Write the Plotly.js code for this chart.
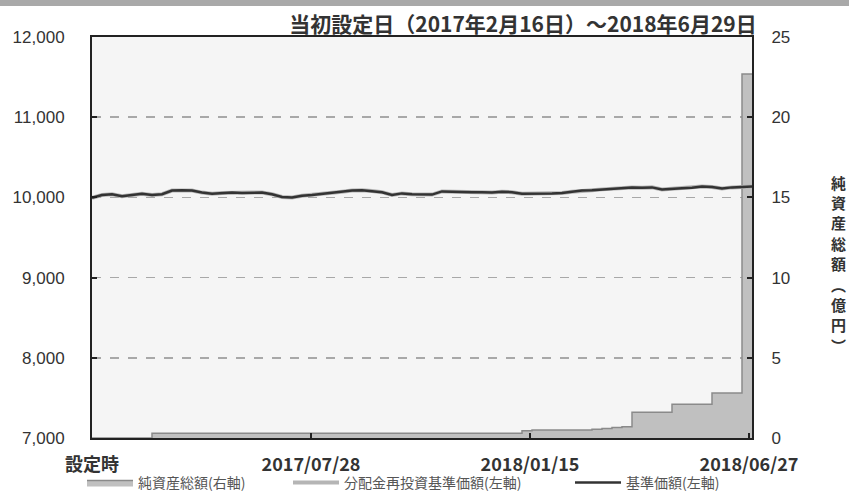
<!DOCTYPE html>
<html>
<head>
<meta charset="utf-8">
<script src="https://cdn.plot.ly/plotly-3.0.1.min.js"></script>
<style>
html,body{margin:0;padding:0;background:#fff;}
#chart{width:849px;height:492px;}
</style>
</head>
<body>
<div id="chart"></div>
<script>
// x tick labels
const tickLabels = ["設定時", "2017/07/28", "2018/01/15", "2018/06/27"];
const tickIdx = [0, 21.9, 43.8, 65.7];
// right axis title, written vertically one character at a time
const rightTitleChars = ["純", "資", "産", "総", "額", "︵", "億", "円", "︶"];

// 基準価額 (円), weekly readings
const nav = [
  9995, 10030, 10040, 10015, 10030, 10045, 10030, 10040, 10085, 10090,
  10085, 10060, 10045, 10055, 10060, 10055, 10060, 10060, 10040, 10005,
  10000, 10020, 10030, 10045, 10060, 10070, 10085, 10090, 10080, 10065,
  10030, 10050, 10040, 10035, 10035, 10075, 10070, 10065, 10065, 10065,
  10060, 10070, 10065, 10045, 10045, 10050, 10050, 10055, 10070, 10085,
  10090, 10100, 10110, 10120, 10125, 10120, 10125, 10100, 10110, 10115,
  10120, 10135, 10130, 10110, 10125, 10130, 10135
];
// 分配金再投資基準価額 (円) - no distributions, same as NAV
const navReinvested = [
  9995, 10030, 10040, 10015, 10030, 10045, 10030, 10040, 10085, 10090,
  10085, 10060, 10045, 10055, 10060, 10055, 10060, 10060, 10040, 10005,
  10000, 10020, 10030, 10045, 10060, 10070, 10085, 10090, 10080, 10065,
  10030, 10050, 10040, 10035, 10035, 10075, 10070, 10065, 10065, 10065,
  10060, 10070, 10065, 10045, 10045, 10050, 10050, 10055, 10070, 10085,
  10090, 10100, 10110, 10120, 10125, 10120, 10125, 10100, 10110, 10115,
  10120, 10135, 10130, 10110, 10125, 10130, 10135
];
// 純資産総額 (億円)
const netAssets = [
  0, 0, 0, 0, 0, 0, 0.3, 0.3, 0.3, 0.3,
  0.3, 0.3, 0.3, 0.3, 0.3, 0.3, 0.3, 0.3, 0.3, 0.3,
  0.3, 0.3, 0.3, 0.3, 0.3, 0.3, 0.3, 0.3, 0.3, 0.3,
  0.3, 0.3, 0.3, 0.3, 0.3, 0.3, 0.3, 0.3, 0.3, 0.3,
  0.3, 0.3, 0.3, 0.45, 0.5, 0.5, 0.5, 0.5, 0.5, 0.5,
  0.55, 0.6, 0.65, 0.7, 1.6, 1.6, 1.6, 1.6, 2.1, 2.1,
  2.1, 2.1, 2.8, 2.8, 2.8, 22.7, 22.7
];
const xIdx = nav.map((_, i) => i);

const FONT = "'Noto Sans CJK JP', 'Liberation Sans', sans-serif";
const NUMFONT = "'Liberation Sans', Arial, sans-serif";

const traces = [
  {
    x: xIdx, y: netAssets, type: 'scatter', mode: 'lines',
    name: '純資産総額(右軸)', yaxis: 'y', fill: 'tozeroy',
    line: {shape: 'hv', color: '#8a8a8a', width: 1.5},
    fillcolor: '#c0c0c0', legend: 'legend', showlegend: true
  },
  {
    x: xIdx, y: navReinvested, type: 'scatter', mode: 'lines',
    name: '分配金再投資基準価額(左軸)', yaxis: 'y2',
    line: {color: '#b5b5b5', width: 4}, legend: 'legend2', showlegend: true
  },
  {
    x: xIdx, y: nav, type: 'scatter', mode: 'lines',
    name: '基準価額(左軸)', yaxis: 'y2',
    line: {color: '#333333', width: 2.5}, legend: 'legend3', showlegend: true
  }
];

const legendCommon = {
  orientation: 'h', xref: 'container', yref: 'container',
  xanchor: 'left', yanchor: 'middle', y: 1 - 483/492,
  font: {family: FONT, size: 14, color: '#555'},
  bgcolor: 'rgba(0,0,0,0)', borderwidth: 0, itemwidth: 46
};

// vertical right-axis title: one annotation per character
const titleTop = 182, titleStep = 20.4;
const rightTitle = rightTitleChars.map((ch, k) => ({
  text: ch, xref: 'paper', yref: 'paper',
  x: (838 - 92) / 660, y: (438 - (titleTop + k * titleStep)) / 401,
  xanchor: 'center', yanchor: 'middle', showarrow: false,
  font: {family: FONT, size: 15, color: '#333', weight: 'bold'}
}));

const layout = {
  width: 849, height: 492,
  showlegend: true,
  margin: {l: 92, r: 97, t: 37, b: 54},
  paper_bgcolor: '#ffffff',
  plot_bgcolor: '#f5f5f5',
  title: {
    text: '当初設定日（2017年2月16日）～2018年6月29日',
    font: {family: FONT, size: 21, color: '#333', weight: 'bold'},
    x: 523/849, xanchor: 'center', xref: 'container',
    y: 1 - 25/492, yanchor: 'middle', yref: 'container'
  },
  xaxis: {
    range: [0, 66], tickvals: tickIdx, ticktext: tickLabels,
    showgrid: false, zeroline: false,
    showline: true, mirror: true, linecolor: '#222', linewidth: 2,
    ticks: 'inside', ticklen: 5, tickcolor: '#222', tickwidth: 2,
    ticklabelstandoff: 9,
    tickfont: {family: FONT, size: 18, color: '#333', weight: 'bold'}
  },
  yaxis: {
    range: [0, 25], dtick: 5, side: 'right',
    showgrid: true, gridcolor: '#a8a8a8', griddash: 'dash', gridwidth: 1.5,
    zeroline: false,
    showline: true, mirror: true, linecolor: '#222', linewidth: 2,
    ticks: 'inside', ticklen: 5, tickcolor: '#222', tickwidth: 2,
    ticklabelstandoff: 14,
    tickfont: {family: NUMFONT, size: 17, color: '#333'}
  },
  yaxis2: {
    range: [7000, 12000], dtick: 1000, overlaying: 'y', side: 'left',
    tickformat: ',d', showgrid: false, zeroline: false,
    showline: true, linecolor: '#222', linewidth: 2,
    ticks: 'inside', ticklen: 5, tickcolor: '#222', tickwidth: 2,
    ticklabelstandoff: 22,
    tickfont: {family: NUMFONT, size: 17, color: '#333'}
  },
  legend: Object.assign({}, legendCommon, {x: 82/849}),
  legend2: Object.assign({}, legendCommon, {x: 288/849}),
  legend3: Object.assign({}, legendCommon, {x: 570/849}),
  shapes: [
    {type: 'rect', xref: 'paper', yref: 'paper',
     x0: -92/660, x1: 757/660, y0: 1 + 31/401, y1: 1 + 37/401,
     fillcolor: '#a9a9a9', line: {width: 0}, layer: 'above'}
  ],
  annotations: rightTitle
};

Plotly.newPlot('chart', traces, layout, {displayModeBar: false, staticPlot: true});
</script>
</body>
</html>
